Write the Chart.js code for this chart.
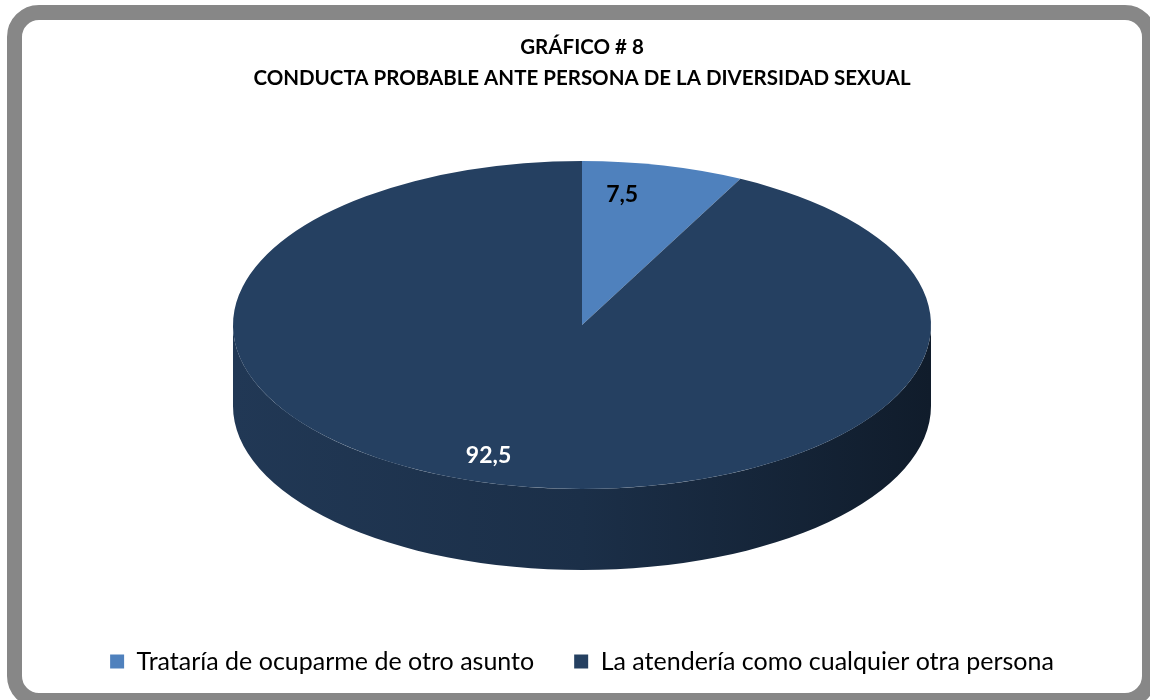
<!DOCTYPE html>
<html>
<head>
<meta charset="utf-8">
<script src="https://cdn.jsdelivr.net/npm/chart.js@4"></script>
<style>
    html, body { margin: 0; padding: 0; width: 1150px; height: 700px; overflow: hidden; background: #fff; }
    #frame { position: absolute; left: 7px; top: 5px; width: 1120px; height: 673px; border: 15px solid #878787; border-radius: 32px; background: #fff; }
    #wrap { position: absolute; left: 0; top: 0; width: 1150px; height: 700px; }
</style>
</head>
<body>
<div id="frame"></div>
<div id="wrap"><canvas id="chart"></canvas></div>
<script>
// Gráfico # 8 - conducta probable ante persona de la diversidad sexual

var titleLines = ['GRÁFICO # 8', 'CONDUCTA PROBABLE ANTE PERSONA DE LA DIVERSIDAD SEXUAL'];
var categories = ['Trataría de ocuparme de otro asunto', 'La atendería como cualquier otra persona'];
var percentages = [7.5, 92.5];
var sliceColors = ['#4f81bd', '#254061'];
var labelColors = ['#000000', '#ffffff'];

function shade(hex, f) {
    var n = parseInt(hex.slice(1), 16);
    var r = Math.round(((n >> 16) & 255) * f);
    var g = Math.round(((n >> 8) & 255) * f);
    var b = Math.round((n & 255) * f);
    return `rgb(${r}, ${g}, ${b})`;
}

// squash the flat pie into an ellipse and give it a front wall, like the Excel 3D pie
var tiltPlugin = {
    id: 'tilt',
    beforeDatasetsDraw(chart, args, opts) {
        var meta = chart.getDatasetMeta(0);
        var first = meta.data[0];
        var R = first.outerRadius, ox = first.x, oy = first.y;
        var sx = opts.rx / R, sy = opts.ry / R;
        var ctx = chart.ctx;
        ctx.save();
        ctx.translate(ox, opts.cy);
        ctx.scale(sx, sy);
        ctx.translate(-ox, -oy);
        var d = opts.depth / sy;
        meta.data.forEach((arc, i) => {
            var color = sliceColors[i];
            for (var k = -1; k <= 1; k++) {
                var a = Math.max(arc.startAngle + 2 * Math.PI * k, 0);
                var b = Math.min(arc.endAngle + 2 * Math.PI * k, Math.PI);
                if (b <= a) continue;
                var g = ctx.createLinearGradient(ox - R, 0, ox + R, 0);
                g.addColorStop(0, shade(color, 0.88));
                g.addColorStop(0.5, shade(color, 0.74));
                g.addColorStop(1, shade(color, 0.44));
                ctx.beginPath();
                ctx.arc(ox, oy, R, a, b);
                ctx.arc(ox, oy + d, R, b, a, true);
                ctx.closePath();
                ctx.fillStyle = g;
                ctx.fill();
            }
        });
    },
    afterDatasetsDraw(chart, args, opts) {
        var ctx = chart.ctx;
        ctx.restore();

        var meta = chart.getDatasetMeta(0);
        var first = meta.data[0];
        var R = first.outerRadius, ox = first.x, oy = first.y;
        var sx = opts.rx / R, sy = opts.ry / R;
        ctx.save();
        ctx.font = 'bold 23px Lato, "Liberation Sans", sans-serif';
        ctx.textAlign = 'center';
        ctx.textBaseline = 'middle';
        meta.data.forEach((arc, i) => {
            var mid = (arc.startAngle + arc.endAngle) / 2;
            var px = Math.cos(mid) * R * opts.labelPos;
            var py = Math.sin(mid) * R * opts.labelPos;
            // a bit of perspective: the front spreads wider than the back
            var persp = 1 + opts.perspective * py / R;
            ctx.fillStyle = labelColors[i];
            ctx.fillText(percentages[i].toFixed(1).replace('.', ','), ox + px * sx * persp, opts.cy + py * sy);
        });
        ctx.restore();
    }
};

var ctx = document.getElementById('chart').getContext('2d');
var chart = new Chart(ctx, {
    type: 'pie',
    data: {
        labels: categories,
        datasets: [{
            data: percentages,
            backgroundColor: sliceColors,
            borderWidth: 0,
            clip: false
        }]
    },
    options: {
        responsive: true,
        maintainAspectRatio: false,
        animation: false,
        events: [],
        layout: { padding: { left: 14, right: 0, top: 0, bottom: 16 } },
        plugins: {
            title: {
                display: true,
                text: titleLines,
                color: '#000',
                font: { family: 'Lato, "Liberation Sans", sans-serif', size: 20.5, weight: 'bold', lineHeight: 1.5 },
                padding: { top: 32, bottom: 10 }
            },
            legend: {
                position: 'bottom',
                labels: {
                    color: '#000',
                    boxWidth: 14,
                    boxHeight: 14,
                    padding: 40,
                    font: { family: 'Lato, "Liberation Sans", sans-serif', size: 25 }
                }
            },
            tooltip: { enabled: false },
            tilt: { rx: 349, ry: 164, cy: 325, depth: 81, labelPos: 0.82, perspective: 0.5 }
        }
    },
    plugins: [tiltPlugin]
});
</script>
</body>
</html>
